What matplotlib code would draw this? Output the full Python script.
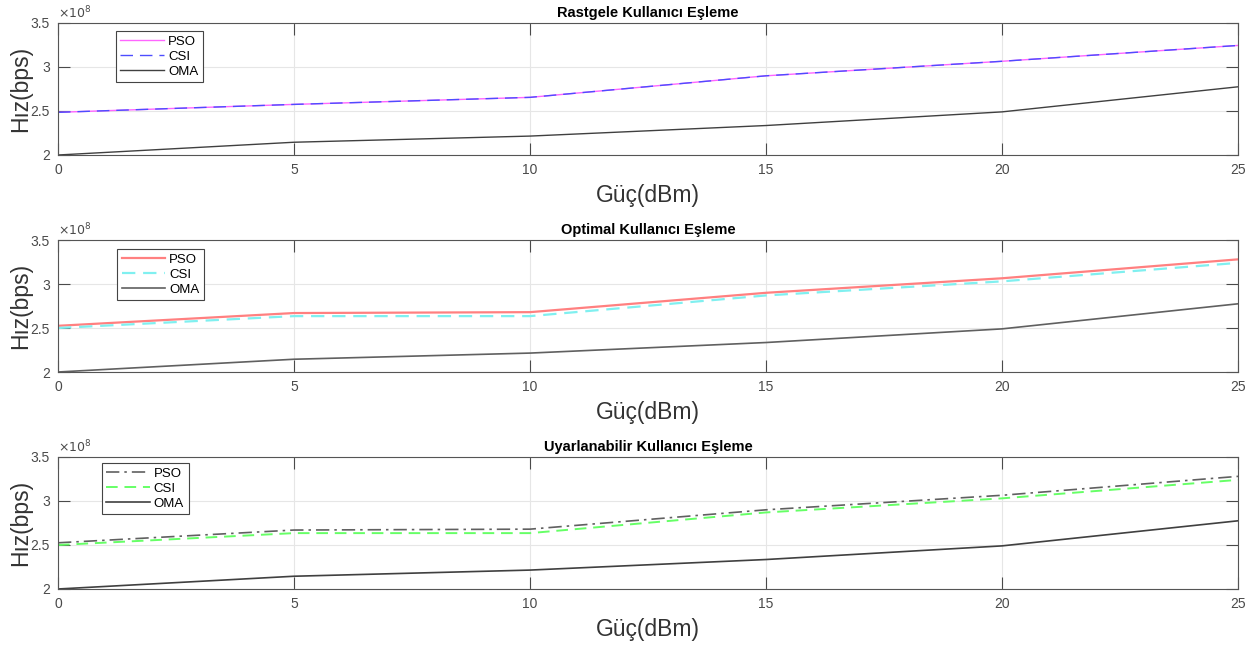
import matplotlib
matplotlib.use("Agg")
import matplotlib.pyplot as plt
import numpy as np

plt.rcParams['font.family'] = ['Liberation Sans', 'DejaVu Sans']

# Data (rates in units of 1e8 bps)
power_dbm = [0, 5, 10, 15, 20, 25]

titles = ["Rastgele Kullanıcı Eşleme", "Optimal Kullanıcı Eşleme", "Uyarlanabilir Kullanıcı Eşleme"]

pso_random = [2.485, 2.575, 2.655, 2.90, 3.065, 3.245]
csi_random = [2.485, 2.575, 2.655, 2.90, 3.065, 3.245]
oma_random = [2.00, 2.145, 2.215, 2.335, 2.49, 2.775]

pso_optimal = [2.525, 2.67, 2.68, 2.90, 3.065, 3.28]
csi_optimal = [2.50, 2.635, 2.635, 2.87, 3.03, 3.24]
oma_optimal = [2.00, 2.145, 2.215, 2.335, 2.49, 2.775]

pso_adaptive = [2.525, 2.67, 2.68, 2.90, 3.065, 3.28]
csi_adaptive = [2.50, 2.635, 2.635, 2.87, 3.03, 3.24]
oma_adaptive = [2.00, 2.145, 2.215, 2.335, 2.49, 2.775]

series_names = ["PSO", "CSI", "OMA"]
xticks = [0, 5, 10, 15, 20, 25]
yticks = [2, 2.5, 3, 3.5]
ytick_labels = ["2", "2.5", "3", "3.5"]

W, H = 1252, 645
fig = plt.figure(figsize=(W / 100, H / 100), dpi=100)

panels = [
    (titles[0], [pso_random, csi_random, oma_random],
     [dict(color='#ff66ff', ls='-', lw=1.0), dict(color='#4d4dff', ls=(0, (9, 5)), lw=1.0), dict(color='#404040', ls='-', lw=1.0)],
     (23, 155), (0.049, 0.94)),
    (titles[1], [pso_optimal, csi_optimal, oma_optimal],
     [dict(color='#ff8080', ls='-', lw=1.6), dict(color='#80f0f0', ls=(0, (6, 3.5)), lw=1.6), dict(color='#606060', ls='-', lw=1.2)],
     (240, 372), (0.050, 0.93)),
    (titles[2], [pso_adaptive, csi_adaptive, oma_adaptive],
     [dict(color='#606060', ls=(0, (8, 3, 1.5, 3)), lw=1.2), dict(color='#66ff66', ls=(0, (6, 3.5)), lw=1.4), dict(color='#404040', ls='-', lw=1.2)],
     (457, 589), (0.037, 0.955)),
]

ax_left = 58 / W
ax_w = 1180 / W
tick_col = '#4a4a4a'

for title, ys, styles, (top, bot), legpos in panels:
    ax = fig.add_axes([ax_left, 1 - bot / H, ax_w, (bot - top) / H])
    for name, y, st in zip(series_names, ys, styles):
        ax.plot(power_dbm, y, label=name, **st)
    ax.set_xlim(0, 25)
    ax.set_ylim(2, 3.5)
    ax.set_xticks(xticks)
    ax.set_yticks(yticks)
    ax.set_yticklabels(ytick_labels)
    ax.grid(True, color='#e6e6e6', lw=0.8)
    ax.set_axisbelow(True)
    ax.tick_params(direction='in', length=8.5, width=0.8, colors=tick_col,
                   labelsize=10, top=True, right=True)
    ax.tick_params(axis='x', pad=6)
    ax.tick_params(axis='y', pad=6)
    for s in ax.spines.values():
        s.set_color('#555555')
        s.set_linewidth(0.8)
    ax.set_title(title, fontsize=10.5, fontweight='bold', pad=4)
    ax.set_xlabel("Güç(dBm)", fontsize=16.5, color='#333333', labelpad=5)
    ax.set_ylabel("Hız(bps)", fontsize=16.5, color='#333333')
    ax.yaxis.set_label_coords(-0.022, 0.5)
    ax.text(0.0, 1.01, r"$\times 10^8$", transform=ax.transAxes, fontsize=9,
            color=tick_col, ha='left', va='bottom')
    leg = ax.legend(loc='upper left', bbox_to_anchor=legpos, fontsize=9.5,
                    handlelength=3.3, borderpad=0.35, labelspacing=0.2,
                    fancybox=False, framealpha=1, edgecolor='#444444',
                    handletextpad=0.3, borderaxespad=0)
    leg.get_frame().set_linewidth(0.8)

fig.savefig("out.png", dpi=100)
